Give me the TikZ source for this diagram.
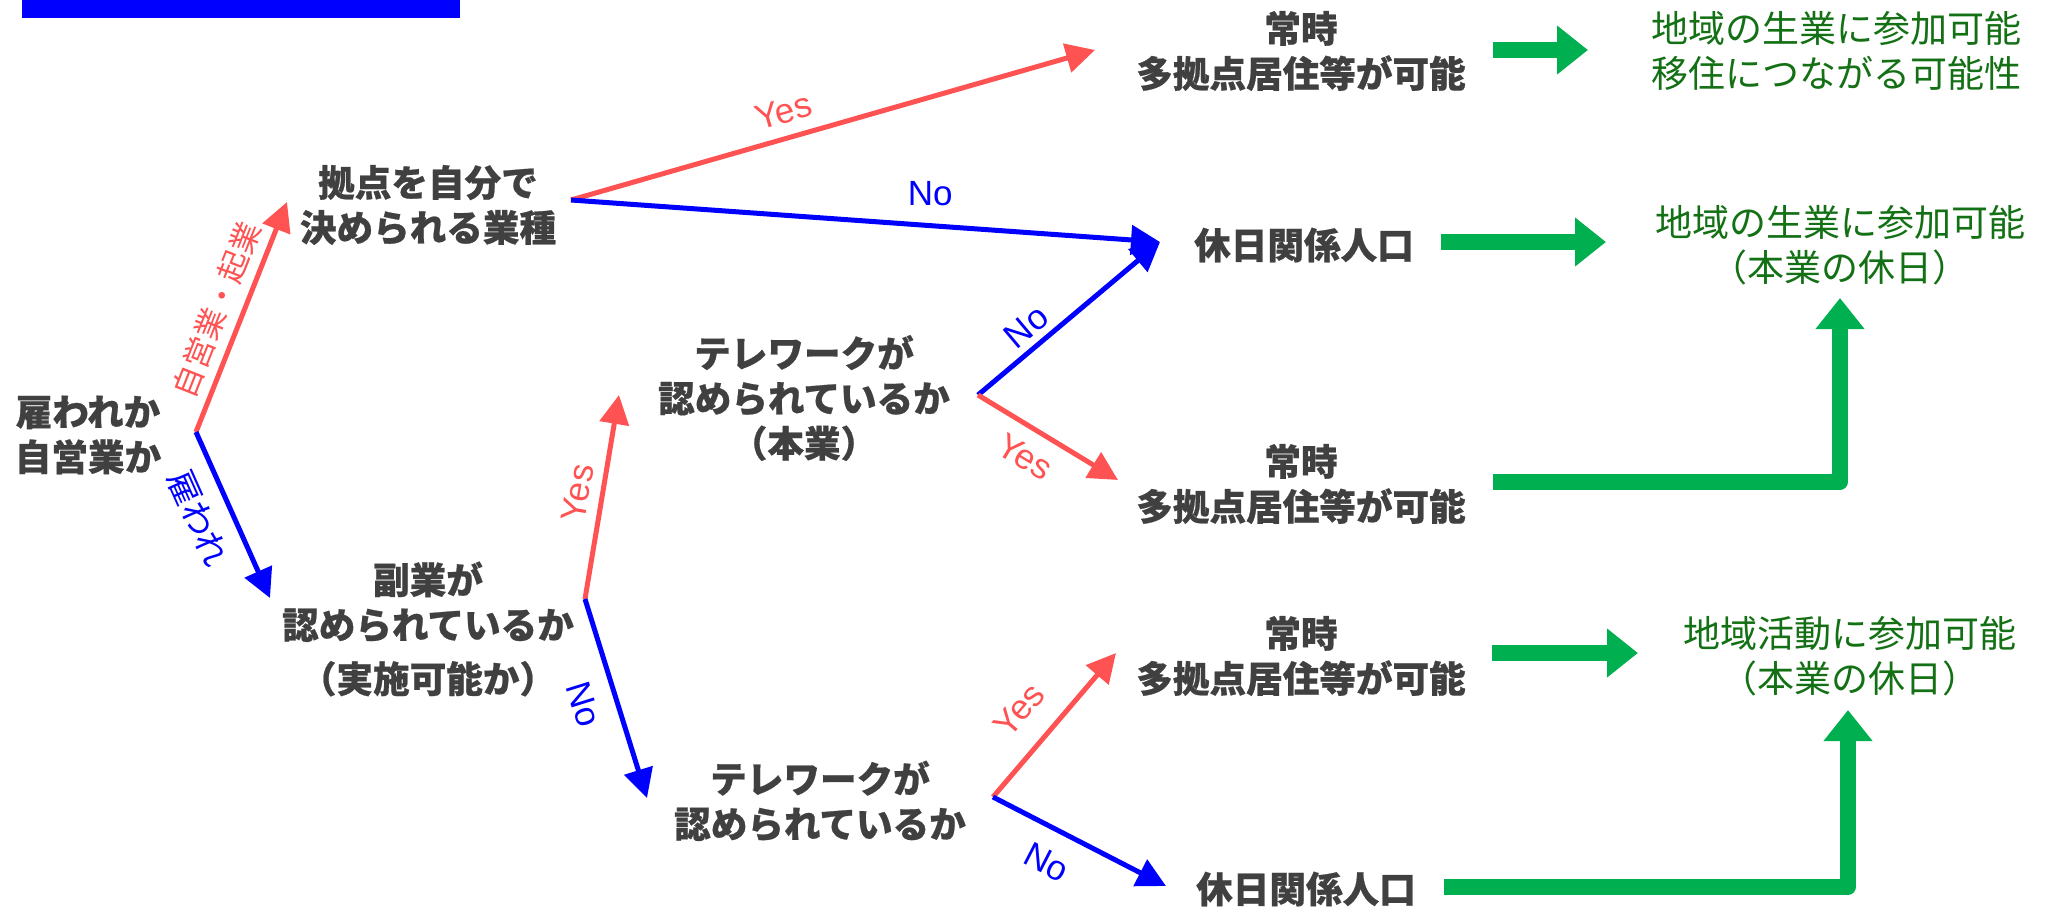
\documentclass[tikz,border=0pt]{standalone}
\usepackage{fontspec}
\newfontfamily\jpfont{Noto Sans CJK JP}[BoldFeatures={FakeBold=0.6}]
\newfontfamily\latinfont{Liberation Sans}
\usetikzlibrary{arrows.meta}

\definecolor{txtgray}{RGB}{64,64,64}
\definecolor{yesred}{RGB}{255,82,82}
\definecolor{noblue}{RGB}{0,0,255}
\definecolor{resgreen}{RGB}{0,176,80}
\definecolor{txtgreen}{RGB}{20,112,20}

\begin{document}
\begin{tikzpicture}
  [
  x=0.5pt, y=-0.5pt,
  qnode/.style={align=center, inner sep=0pt, text=txtgray, font=\jpfont\bfseries\fontsize{18.3pt}{22.5pt}\selectfont},
  gnode/.style={align=center, inner sep=0pt, text=txtgreen, font=\jpfont\fontsize{18.5pt}{22.5pt}\selectfont},
  yesarrow/.style={draw=yesred, line width=2.5pt, -{Triangle[length=14.5pt,width=14.5pt]}},
  noarrow/.style={draw=noblue, line width=2.5pt, -{Triangle[length=14.5pt,width=14.5pt]}},
  yeslabel/.style={inner sep=0pt, text=yesred, font=\latinfont\fontsize{17.5pt}{20pt}\selectfont},
  nolabel/.style={inner sep=0pt, text=noblue, font=\latinfont\fontsize{17.5pt}{20pt}\selectfont},
  jplabel/.style={inner sep=0pt, font=\jpfont\fontsize{15.5pt}{18pt}\selectfont},
  bigarrow/.style={draw=resgreen, line width=7.75pt, line join=round, -{Triangle[length=15.5pt,width=23.5pt]}},
  ]
  \useasboundingbox (0,0) rectangle (2047,906);

  % header strip
  \fill[noblue] (22,0) rectangle (460,18);

  % questions
  \node[qnode] (employ) at (88,435) {雇われか\\自営業か};
  \node[qnode] (base) at (428,205) {拠点を自分で\\決められる業種};
  \node[qnode] (side) at (428,629) {副業が\\認められているか\\[4.5pt]（実施可能か）};
  \node[qnode] (tele1) at (804,398) {テレワークが\\認められているか\\（本業）};
  \node[qnode] (tele2) at (820,801) {テレワークが\\認められているか};

  % outcomes
  \node[qnode] (full1) at (1301,51) {常時\\多拠点居住等が可能};
  \node[qnode] (holi1) at (1304,245) {休日関係人口};
  \node[qnode] (full2) at (1301,484) {常時\\多拠点居住等が可能};
  \node[qnode] (full3) at (1301,656) {常時\\多拠点居住等が可能};
  \node[qnode] (holi2) at (1306,889) {休日関係人口};

  \node[gnode] (res1) at (1836,51) {地域の生業に参加可能\\移住につながる可能性};
  \node[gnode] (res2) at (1840,245) {地域の生業に参加可能\\（本業の休日）};
  \node[gnode] (res3) at (1850,656) {地域活動に参加可能\\（本業の休日）};

  % branch points and tips
  \coordinate (b0) at (196,432);
  \coordinate (b1) at (571,200);
  \coordinate (b2) at (585,599);
  \coordinate (b3) at (978,395);
  \coordinate (b4) at (993,797);
  \coordinate (t0y) at (287,202);
  \coordinate (t0n) at (270,598);
  \coordinate (t1y) at (1095,50);
  \coordinate (t1n) at (1160,242);
  \coordinate (t2y) at (619,395);
  \coordinate (t2n) at (647,798);
  \coordinate (t3y) at (1118,480);
  \coordinate (t4y) at (1116,653);
  \coordinate (t4n) at (1166,886);

  \draw[yesarrow] (b0) -- (t0y) node[jplabel, text=yesred, pos=.49, sloped, above=4.5pt] (self) {自営業・起業};
  \draw[noarrow] (b0) -- (t0n) node[jplabel, text=noblue, font=\jpfont\fontsize{17pt}{18pt}\selectfont, pos=.44, sloped, below=8pt] (hired) {雇われ};

  \draw[yesarrow] (b1) -- (t1y) node[yeslabel, pos=.42, sloped, above=6pt] (yes1) {Yes};
  \draw[noarrow] (b1) -- (t1n) node[nolabel, pos=.61, above=8.5pt] (no1) {No};

  \draw[yesarrow] (b2) -- (t2y) node[yeslabel, pos=.5, sloped, above=5pt] (yes2) {Yes};
  \draw[noarrow] (b2) -- (t2n) node[nolabel, pos=.48, sloped, below=9pt] (no2) {No};

  \draw[noarrow] (b3) -- (t1n) node[nolabel, pos=.34, sloped, above=3.3pt] (no3) {No};
  \draw[yesarrow] (b3) -- (t3y) node[yeslabel, pos=.44, sloped, below=7pt] (yes3) {Yes};

  \draw[yesarrow] (b4) -- (t4y) node[yeslabel, pos=.44, sloped, above=11pt] (yes4) {Yes};
  \draw[noarrow] (b4) -- (t4n) node[nolabel, pos=.4, sloped, below=9.5pt] (no4) {No};

  % green result arrows
  \coordinate (g1s) at (1493,50);
  \coordinate (g1e) at (1588,50);
  \coordinate (g2s) at (1441,242);
  \coordinate (g2e) at (1606,242);
  \coordinate (g3s) at (1492,653);
  \coordinate (g3e) at (1638,653);
  \coordinate (g4s) at (1493,482);
  \coordinate (g4e) at (1840,298);
  \coordinate (g5s) at (1444,887);
  \coordinate (g5e) at (1848,710);

  \draw[bigarrow] (g1s) -- (g1e);
  \draw[bigarrow] (g2s) -- (g2e);
  \draw[bigarrow] (g3s) -- (g3e);
  \draw[bigarrow] (g4s) -| (g4e);
  \draw[bigarrow] (g5s) -| (g5e);
\end{tikzpicture}
\end{document}
